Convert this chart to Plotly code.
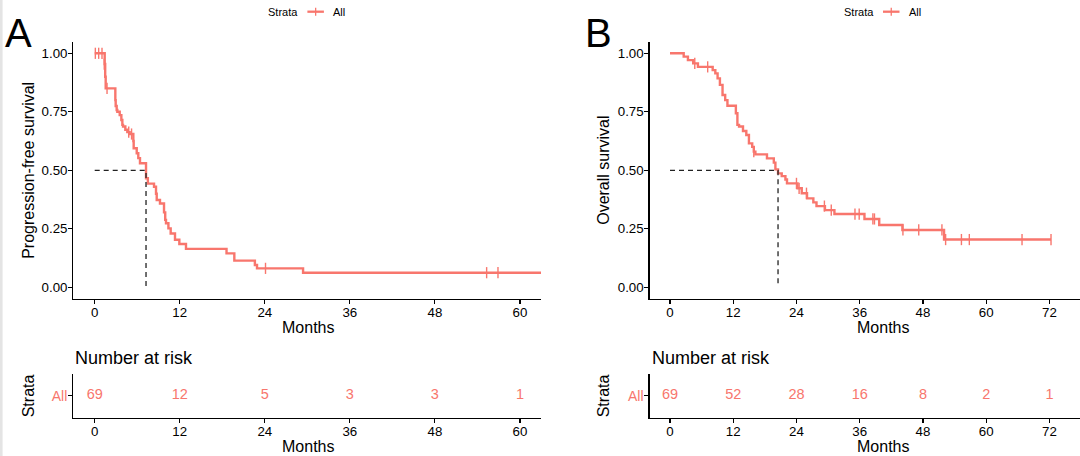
import plotly.graph_objects as go

FONT = "Liberation Sans, Arial, sans-serif"
RED = "#F8766D"
W, H = 1080, 456

# ---------------- data ----------------
strata = ["All"]
surv_ticks = [0, 0.25, 0.5, 0.75, 1.0]
months_ticks_a = [0, 12, 24, 36, 48, 60]
months_ticks_b = [0, 12, 24, 36, 48, 60, 72]

# Panel A: progression-free survival (step curve)
pfs_time = [0, 1.41, 1.48, 1.55, 2.91, 2.96, 3.1, 3.19, 3.53, 3.76, 3.9, 4.0, 4.32, 4.6, 4.93,
            5.45, 5.5, 5.93, 6.15, 6.39, 7.24, 7.5, 8.37, 8.65, 8.75, 9.21, 9.78, 9.95, 10.06,
            10.4, 10.72, 11.33, 11.94, 12.88, 18.6, 19.7, 22.6, 22.9, 29.4, 64]
pfs_surv = [1.0, 0.954, 0.90, 0.85, 0.80, 0.775, 0.758, 0.75, 0.736, 0.715, 0.694, 0.687, 0.673,
            0.663, 0.655, 0.625, 0.594, 0.573, 0.552, 0.53, 0.466, 0.443, 0.43, 0.40, 0.373,
            0.358, 0.32, 0.288, 0.274, 0.252, 0.23, 0.203, 0.185, 0.164, 0.145, 0.114, 0.095,
            0.081, 0.0624, 0.0624]
pfs_cens_time = [0.09, 0.56, 1.03, 1.35, 1.74, 4.8, 5.2, 24.1, 55.3, 56.9]
pfs_cens_surv = [1.0, 1.0, 1.0, 0.954, 0.85, 0.663, 0.655, 0.081, 0.0624, 0.0624]
pfs_median = 7.24
pfs_risk = [69, 12, 5, 3, 3, 1]

# Panel B: overall survival (step curve)
os_time = [0, 2.6, 3.4, 4.4, 5.3, 8.1, 8.6, 9.03, 9.47, 9.97, 10.47, 10.9, 12.5, 12.79, 13.1,
           13.85, 14.48, 14.98, 15.6, 15.9, 16.2, 18.4, 19.7, 20.0, 20.5, 21.2, 21.9, 22.2,
           24.2, 25.0, 26.0, 27.2, 27.8, 29.4, 31.2, 36.9, 39.7, 44.1, 52.0, 72.3]
os_surv = [1.0, 0.986, 0.971, 0.957, 0.942, 0.928, 0.914, 0.893, 0.865, 0.822, 0.80, 0.776,
           0.744, 0.694, 0.687, 0.668, 0.651, 0.615, 0.60, 0.58, 0.568, 0.551, 0.533, 0.504,
           0.487, 0.475, 0.461, 0.444, 0.423, 0.402, 0.38, 0.363, 0.347, 0.33, 0.313, 0.292,
           0.266, 0.245, 0.204, 0.204]
os_cens_time = [4.7, 7.15, 15.9, 24.0, 24.5, 25.9, 29.3, 30.6, 35.1, 35.9, 38.5, 38.8, 44.2,
                47.2, 51.6, 52.3, 55.3, 56.8, 66.8, 72.3]
os_cens_surv = [0.957, 0.942, 0.58, 0.444, 0.423, 0.402, 0.347, 0.33, 0.313, 0.313, 0.292,
                0.292, 0.245, 0.245, 0.245, 0.204, 0.204, 0.204, 0.204, 0.204]
os_median = 20.5
os_risk = [69, 52, 28, 16, 8, 2, 1]

# ---------------- layout geometry (pixels) ----------------
def px(x):
    return x / W

def py(y):
    return 1 - y / H

A_dom = [px(73.3), px(541)]
B_dom = [px(649.5), 1.0]
main_dom = [py(299), py(41.6)]
risk_dom = [py(417.7), py(374)]
A_range = [-3.02, 62.97]
B_range = [-3.89, 77.8]

fig = go.Figure()

def add_panel(xa, ya, xr, yr, t, s, ct, cs, med, ticks, risk):
    fig.add_trace(go.Scatter(x=t, y=s, mode="lines", line=dict(color=RED, width=2.4, shape="hv"),
                             xaxis=xa, yaxis=ya, showlegend=False, hoverinfo="skip"))
    fig.add_trace(go.Scatter(x=ct, y=cs, mode="markers",
                             marker=dict(symbol="line-ns", size=8, color=RED,
                                         line=dict(color=RED, width=1.4)),
                             xaxis=xa, yaxis=ya, showlegend=False, hoverinfo="skip",
                             cliponaxis=False))
    fig.add_trace(go.Scatter(x=[0, med, med], y=[0.5, 0.5, 0], mode="lines",
                             line=dict(color="#222222", width=1.3, dash="5px,4px"),
                             xaxis=xa, yaxis=ya, showlegend=False, hoverinfo="skip"))
    fig.add_trace(go.Scatter(x=ticks, y=[1] * len(ticks), mode="text",
                             text=[str(v) for v in risk],
                             textfont=dict(family=FONT, size=14.5, color=RED),
                             xaxis=xr, yaxis=yr, showlegend=False, hoverinfo="skip"))

add_panel("x", "y", "x2", "y2", pfs_time, pfs_surv, pfs_cens_time, pfs_cens_surv,
          pfs_median, months_ticks_a, pfs_risk)
add_panel("x3", "y3", "x4", "y4", os_time, os_surv, os_cens_time, os_cens_surv,
          os_median, months_ticks_b, os_risk)

axis_common = dict(showgrid=False, zeroline=False, showline=True, linecolor="black",
                   linewidth=1.2, ticks="outside", ticklen=4, tickwidth=1.1,
                   tickcolor="black", fixedrange=True)
xfont = dict(family=FONT, size=13.3, color="black")
yfont = dict(family=FONT, size=13.3, color="black")
rfont = dict(family=FONT, size=14, color=RED)

fig.update_layout(
    width=W, height=H, margin=dict(l=0, r=0, t=0, b=0),
    paper_bgcolor="white", plot_bgcolor="white",
    xaxis=dict(domain=A_dom, range=A_range, tickvals=months_ticks_a, anchor="y",
               tickfont=xfont, ticklabelstandoff=-3, **axis_common),
    yaxis=dict(domain=main_dom, range=[-0.05, 1.05], tickvals=surv_ticks, tickformat=".2f",
               anchor="x", tickfont=yfont, ticklabelstandoff=-2, **axis_common),
    xaxis2=dict(domain=A_dom, range=A_range, tickvals=months_ticks_a, anchor="y2",
                tickfont=xfont, ticklabelstandoff=-3, **axis_common),
    yaxis2=dict(domain=risk_dom, range=[0.5, 1.5], tickvals=[1], ticktext=strata, anchor="x2",
                tickfont=rfont, ticklabelstandoff=-2, **axis_common),
    xaxis3=dict(domain=B_dom, range=B_range, tickvals=months_ticks_b, anchor="y3",
                tickfont=xfont, ticklabelstandoff=-3, **axis_common),
    yaxis3=dict(domain=main_dom, range=[-0.05, 1.05], tickvals=surv_ticks, tickformat=".2f",
                anchor="x3", tickfont=yfont, ticklabelstandoff=-2, **axis_common),
    xaxis4=dict(domain=B_dom, range=B_range, tickvals=months_ticks_b, anchor="y4",
                tickfont=xfont, ticklabelstandoff=-3, **axis_common),
    yaxis4=dict(domain=risk_dom, range=[0.5, 1.5], tickvals=[1], ticktext=strata, anchor="x4",
                tickfont=rfont, ticklabelstandoff=-2, **axis_common),
)

annotations = []
def ann(text, x, y, size, xanchor="center", angle=0, color="black"):
    annotations.append(dict(text=text, x=px(x), y=py(y), xref="paper", yref="paper",
                            xanchor=xanchor, yanchor="middle", showarrow=False,
                            textangle=angle, font=dict(family=FONT, size=size, color=color)))

shapes = [dict(type="rect", xref="paper", yref="paper", x0=0, x1=px(2.6), y0=0, y1=1,
               fillcolor="#e4e4e4", line=dict(width=0), layer="below")]

for (cx, letter, lx, ytitle, ytx, xtc) in [
        (307.4, "A", 2.5, "Progression-free survival", 28.5, 307.5),
        (883.0, "B", 582.5, "Overall survival", 603.5, 882.7)]:
    # panel letter
    ann(letter, lx, 32.5, 40, xanchor="left")
    # legend
    ann("Strata", cx - 7.5, 11.5, 11, xanchor="right")
    shapes.append(dict(type="line", xref="paper", yref="paper", x0=px(cx), x1=px(cx + 16.5),
                       y0=py(11.7), y1=py(11.7), line=dict(color=RED, width=2.3)))
    shapes.append(dict(type="line", xref="paper", yref="paper", x0=px(cx + 8.25), x1=px(cx + 8.25),
                       y0=py(7.7), y1=py(15.7), line=dict(color=RED, width=1.3)))
    ann("All", cx + 24, 11.5, 11, xanchor="left")
    # axis titles
    ann(ytitle, ytx, 170.3, 16, angle=-90)
    ann("Months", xtc, 327.5, 16)
    ann("Number at risk", 73.3 if letter == "A" else 649.5, 357.5, 18, xanchor="left")
    ann("Strata", ytx, 395.8, 16, angle=-90)
    ann("Months", xtc, 446.5, 16)

fig.update_layout(annotations=annotations, shapes=shapes)
fig.write_html("out.html", config={"staticPlot": True},
               post_script="document.body.style.margin='0';document.body.style.overflow='hidden';")
